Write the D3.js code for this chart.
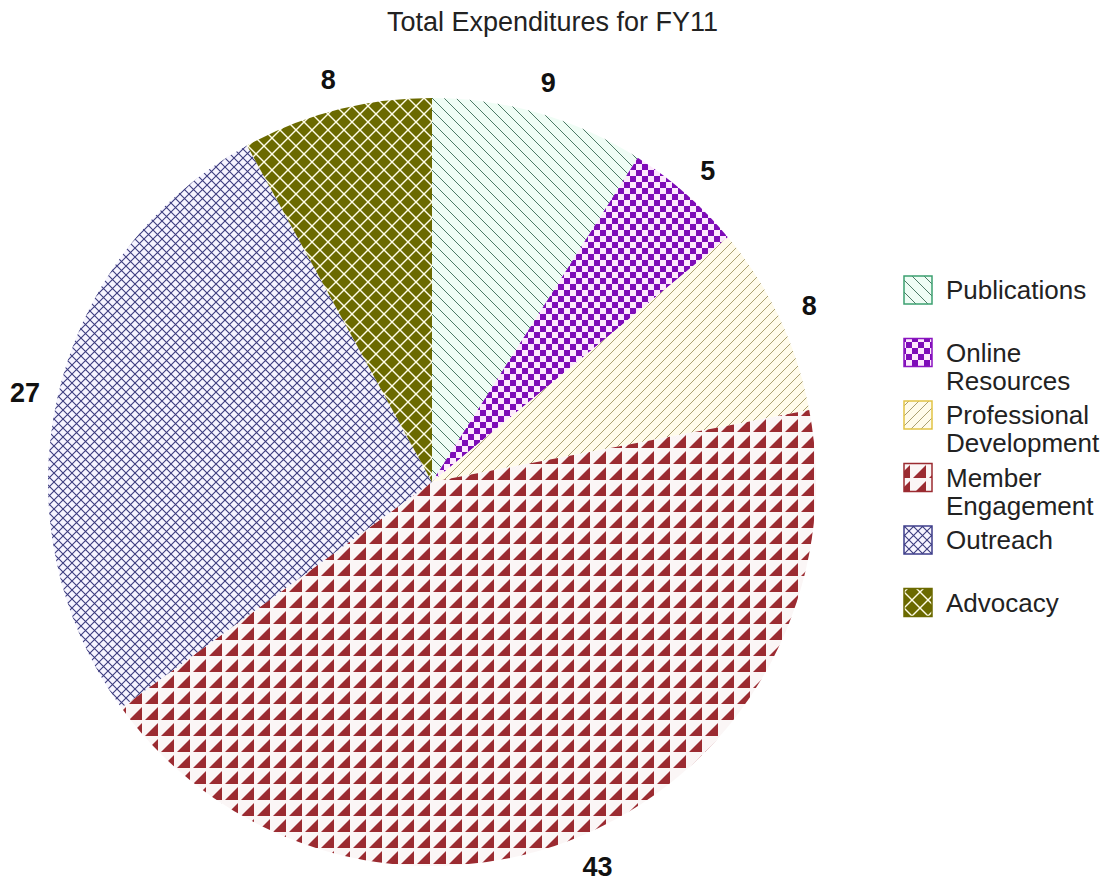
<!DOCTYPE html>
<html>
<head>
<meta charset="utf-8">
<script src="https://cdn.jsdelivr.net/npm/d3@7"></script>
<style>
  body { margin: 0; background: #fff; }
  text { font-family: Arial, "Liberation Sans", sans-serif; }
</style>
</head>
<body>
<div id="chart"></div>
<script>
const WIDTH = 1105;
const HEIGHT = 883;
const CENTER = {x: 432, y: 482};
const RADIUS = 384;
const LABEL_RADIUS = 417;

// data
const categories = ["Publications", "Online Resources", "Professional Development",
  "Member Engagement", "Outreach", "Advocacy"];
const values = [9, 5, 8, 43, 27, 8];

// outline colour of each legend swatch
const outlines = ["#3ca070", "#8a14c0", "#e2c444", "#9b2b31", "#3c3c8a", "#6b6a00"];

let svg = d3.select("#chart")
  .append("svg")
    .attr("width", WIDTH)
    .attr("height", HEIGHT);

let defs = svg.append("defs");

function makePattern(id, size, bg) {
  let p = defs.append("pattern")
    .attr("id", id)
    .attr("patternUnits", "userSpaceOnUse")
    .attr("width", size)
    .attr("height", size);
  p.append("rect").attr("width", size).attr("height", size).attr("fill", bg);
  return p;
}

// Publications: "\" lines
makePattern("pat0", 12, "#effdf5")
  .append("path")
    .attr("d", "M0,0L12,12M-6,6L6,18M6,-6L18,6")
    .attr("stroke", "#4d7a66").attr("stroke-width", 1);

// Online Resources: checkerboard
let p1 = makePattern("pat1", 12, "#fde8fd");
p1.append("rect").attr("width", 6).attr("height", 6).attr("fill", "#7e0cb8");
p1.append("rect").attr("x", 6).attr("y", 6).attr("width", 6).attr("height", 6).attr("fill", "#7e0cb8");

// Professional Development: "/" lines
makePattern("pat2", 10, "#fffbea")
  .append("path")
    .attr("d", "M0,10L10,0M-5,5L5,-5M5,15L15,5")
    .attr("stroke", "#aaa070").attr("stroke-width", 1);

// Member Engagement: triangles
makePattern("pat3", 16, "#fbf6f6")
  .append("path")
    .attr("d", "M1,14L14,1L14,14Z")
    .attr("fill", "#9b2b31");

// Outreach: cross hatch
makePattern("pat4", 9, "#f6f4ff")
  .append("path")
    .attr("d", "M0,0L9,9M9,0L0,9")
    .attr("stroke", "#3c3c7e").attr("stroke-width", 1.1);

// Advocacy: diamonds
let p5 = makePattern("pat5", 16, "#fffde8");
[[8, 8], [0, 0], [16, 0], [0, 16], [16, 16]].forEach(function(c) {
  p5.append("path")
    .attr("d", "M" + (c[0] - 7) + "," + c[1] + "L" + c[0] + "," + (c[1] - 7) +
               "L" + (c[0] + 7) + "," + c[1] + "L" + c[0] + "," + (c[1] + 7) + "Z")
    .attr("fill", "#6b6a00");
});

// title
svg.append("text")
  .attr("x", WIDTH / 2)
  .attr("y", 31)
  .attr("text-anchor", "middle")
  .attr("font-size", 27)
  .attr("fill", "#222")
  .text("Total Expenditures for FY11");

// pie
let pie = d3.pie().sort(null).value(function(d) { return d; });
let arcs = pie(values);
let arc = d3.arc().innerRadius(0).outerRadius(RADIUS);
let labelArc = d3.arc().innerRadius(LABEL_RADIUS).outerRadius(LABEL_RADIUS);

let g = svg.append("g")
  .attr("transform", "translate(" + CENTER.x + "," + CENTER.y + ")");

g.selectAll("path.slice")
  .data(arcs)
  .enter()
  .append("path")
    .attr("class", "slice")
    .attr("d", arc)
    .attr("fill", function(d, i) { return "url(#pat" + i + ")"; });

g.selectAll("text.lbl")
  .data(arcs)
  .enter()
  .append("text")
    .attr("class", "lbl")
    .attr("transform", function(d) { return "translate(" + labelArc.centroid(d) + ")"; })
    .attr("text-anchor", "middle")
    .attr("dy", "0.4em")
    .attr("font-size", 27)
    .attr("font-weight", "bold")
    .attr("fill", "#111")
    .text(function(d) { return d.value; });

// legend
const LEG_X = 904, LEG_Y = 290, LEG_STEP = 62.5, BOX = 28, LINE_H = 28;

let legend = svg.append("g");
categories.forEach(function(name, i) {
  let y = LEG_Y + i * LEG_STEP;
  legend.append("rect")
    .attr("x", LEG_X)
    .attr("y", y - BOX / 2)
    .attr("width", BOX)
    .attr("height", BOX)
    .attr("fill", "url(#pat" + i + ")")
    .attr("stroke", outlines[i])
    .attr("stroke-width", 1.5);
  let t = legend.append("text")
    .attr("x", LEG_X + BOX + 14)
    .attr("y", y)
    .attr("font-size", 26)
    .attr("fill", "#222");
  name.split(" ").forEach(function(word, j) {
    t.append("tspan")
      .attr("x", LEG_X + BOX + 14)
      .attr("dy", j === 0 ? "0.35em" : LINE_H)
      .text(word);
  });
});
</script>
</body>
</html>
